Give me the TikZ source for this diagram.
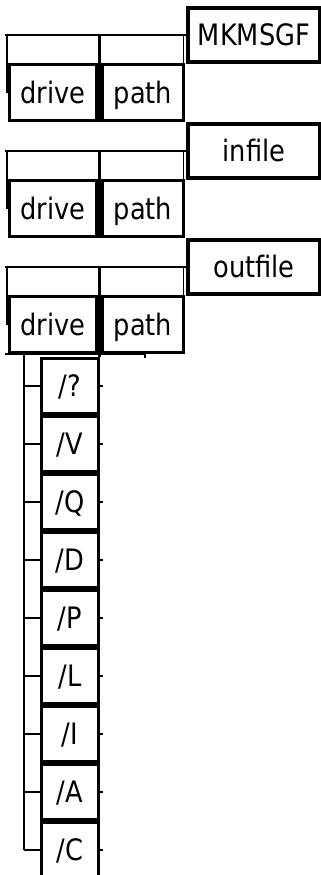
\documentclass[tikz,border=0pt]{standalone}
\usepackage{fontspec}
\newfontfamily\railfont[FakeStretch=0.87]{DejaVu Sans}
\usetikzlibrary{positioning,calc}
\tikzset{
  synbox/.style={draw, line width=3.4pt, inner sep=0pt, text height=21pt, text depth=0pt,
    font=\railfont\fontsize{29.5}{29.5}\selectfont},
  rail/.style={line width=1.2pt},
  thickrail/.style={line width=3.4pt}
}
\begin{document}
\begin{tikzpicture}[x=1pt,y=-1pt]
    \useasboundingbox (0,0) rectangle (321,875);
    % Name, infile, outfile with drive and path
    \foreach \name/\txt [count=\k from 0] in {mk/MKMSGF,in/infile,out/outfile} {
        \pgfmathsetmacro{\dy}{116*\k}
        \node[synbox, minimum width=132pt, minimum height=54pt] (\name) at (254,35+\dy) {\txt};
        \node[synbox, minimum width=87pt, minimum height=56pt] (drv\k) at (53,92.5+\dy) {drive};
        \node[synbox, minimum width=81pt, minimum height=56pt] (pth\k) at (143,92.5+\dy) {path};
        \coordinate (\name-in) at (5,35+\dy);
        \coordinate (mid\k) at ($(drv\k.east)!0.5!(pth\k.west)$);
        \draw[rail] (\name-in) -- (\name.west);
        \draw[rail] ([xshift=2pt]\name-in) -- ([xshift=2pt]\name-in |- drv\k.center);
        \draw[rail] ([xshift=-3pt]\name.west) -- ([xshift=-3pt]\name.west |- pth\k.center);
        \draw[thickrail] (mid\k |- \name-in) -- (mid\k |- drv\k.south);
    }

    % Switches
    \foreach \opt [count=\i from 0] in {/?,/V,/Q,/D,/P,/L,/I,/A,/C} {
        \node[synbox, minimum width=57pt, minimum height=55pt] (opt\i) at (70,386+58*\i) {\opt};
    }
    \coordinate (lead) at (5,354);
    \coordinate (tail) at (145,354);
    \coordinate (rail-top) at (24,354);
    \draw[rail] (lead) -- (tail) -- ++(0,4);
    \draw[thickrail] (mid2 |- drv2.south) -- (mid2 |- opt0.north);
    \draw[rail] (rail-top) -- (rail-top |- opt8.center);
    \foreach \i in {0,...,8} {
        \draw[rail] (rail-top |- opt\i.center) -- (opt\i.west);
        \draw[rail] (opt\i.east) -- ++(3,0);
    }
\end{tikzpicture}
\end{document}
